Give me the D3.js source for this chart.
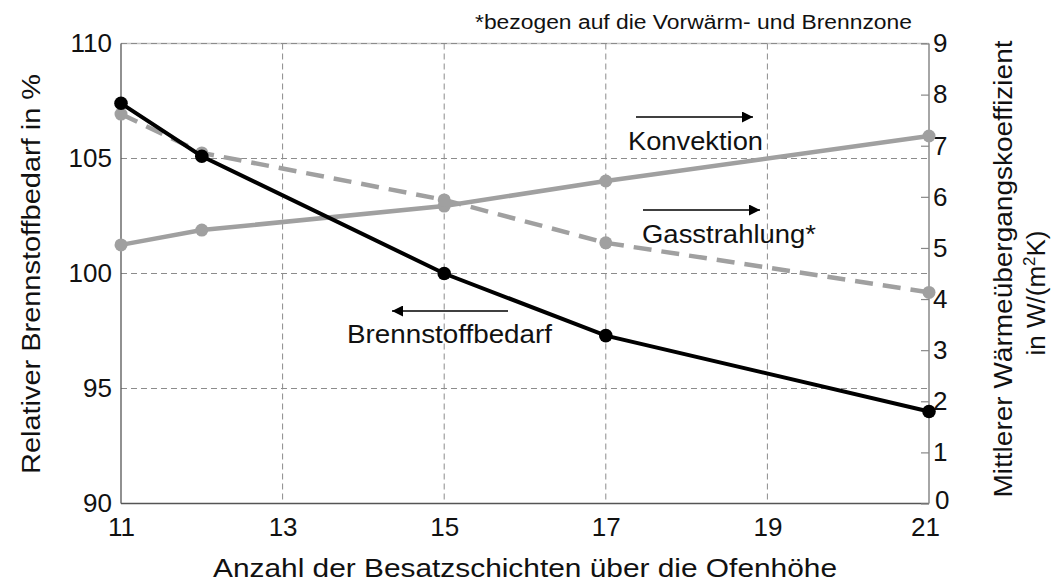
<!DOCTYPE html>
<html>
<head>
<meta charset="utf-8">
<script src="https://cdn.jsdelivr.net/npm/d3@7/dist/d3.min.js"></script>
<style>
  body { margin: 0; background: #fff; }
  svg { display: block; font-family: "Liberation Sans", Arial, sans-serif; }
</style>
</head>
<body>
<svg id="chart" width="1051" height="583"></svg>
<script>
// Number of setting layers across the kiln height
const layers = [11, 12, 15, 17, 21];
// Relative fuel demand in % (left axis)
const fuelDemand = [107.4, 105.1, 100.0, 97.3, 94.0];
// Mean heat transfer coefficients in W/(m²K) (right axis)
const convection = [5.06, 5.35, 5.82, 6.31, 7.19];
const gasRadiation = [7.62, 6.86, 5.94, 5.10, 4.13];

const xTicks = [11, 13, 15, 17, 19, 21];
const yLeftTicks = [90, 95, 100, 105, 110];
const yRightTicks = [0, 1, 2, 3, 4, 5, 6, 7, 8, 9];

const svg = d3.select("#chart");
const m = { left: 121, right: 929, top: 43.5, bottom: 503.5 };

const x = d3.scaleLinear().domain([11, 21]).range([m.left, m.right]);
const yL = d3.scaleLinear().domain([90, 110]).range([m.bottom, m.top]);
const yR = d3.scaleLinear().domain([0, 9]).range([m.bottom, m.top]);

const grey = "#a0a0a0";
const gridCol = "#8c8c8c";
const FS = 26;

// top border (solid, with the dashed grid line on top)
svg.append("line").attr("x1", m.left).attr("x2", m.right).attr("y1", m.top).attr("y2", m.top)
  .attr("stroke", "#c4c4c4").attr("stroke-width", 1.3);

// grid lines
const grid = svg.append("g");
grid.selectAll("line.h").data(yLeftTicks.filter(d => d > 90)).join("line")
  .attr("x1", m.left).attr("x2", m.right)
  .attr("y1", d => yL(d)).attr("y2", d => yL(d))
  .attr("stroke", gridCol).attr("stroke-width", 1).attr("stroke-dasharray", "6,4");
grid.selectAll("line.v").data(xTicks.filter(d => d > 11 && d < 21)).join("line")
  .attr("x1", d => x(d)).attr("x2", d => x(d))
  .attr("y1", m.top).attr("y2", m.bottom)
  .attr("stroke", gridCol).attr("stroke-width", 1).attr("stroke-dasharray", "6,4");

// axes frame
svg.append("line").attr("x1", m.left).attr("x2", m.left).attr("y1", m.top).attr("y2", m.bottom)
  .attr("stroke", "#555").attr("stroke-width", 1.3);
svg.append("line").attr("x1", m.left).attr("x2", m.right).attr("y1", m.bottom).attr("y2", m.bottom)
  .attr("stroke", "#555").attr("stroke-width", 1.3);
svg.append("line").attr("x1", m.right).attr("x2", m.right).attr("y1", m.top).attr("y2", m.bottom)
  .attr("stroke", "#888").attr("stroke-width", 1.5);

// axes
const xAxis = svg.append("g").attr("transform", `translate(0,${m.bottom})`)
  .call(d3.axisBottom(x).tickValues(xTicks).tickSize(0).tickPadding(14).tickFormat(d3.format("d")));
xAxis.select(".domain").remove();
xAxis.selectAll("text").attr("font-size", FS).attr("fill", "#111");
// last label sits slightly left so it clears the right axis' zero
xAxis.selectAll(".tick").filter(d => d === 21).select("text").attr("dx", "-4");

const yAxisL = svg.append("g").attr("transform", `translate(${m.left},0)`)
  .call(d3.axisLeft(yL).tickValues(yLeftTicks).tickSize(0).tickPadding(9));
yAxisL.select(".domain").remove();
yAxisL.selectAll("text").attr("font-size", FS).attr("fill", "#111");

const yAxisR = svg.append("g").attr("transform", `translate(${m.right},0)`)
  .call(d3.axisRight(yR).tickValues(yRightTicks).tickSizeInner(-8).tickSizeOuter(0).tickPadding(4));
yAxisR.select(".domain").remove();
yAxisR.selectAll("line").attr("stroke", "#888").attr("stroke-width", 1.2);
yAxisR.selectAll("text").attr("font-size", FS).attr("fill", "#111");
yAxisR.selectAll(".tick").filter(d => d === 0).select("text").attr("dy", "0.2em").attr("x", 6);

// series
const pts = (vals, ys) => layers.map((l, i) => [x(l), ys(vals[i])]);
const line = d3.line();

svg.append("path").attr("d", line(pts(convection, yR)))
  .attr("fill", "none").attr("stroke", grey).attr("stroke-width", 4.5);
svg.append("path").attr("d", line(pts(gasRadiation, yR)))
  .attr("fill", "none").attr("stroke", grey).attr("stroke-width", 4.5)
  .attr("stroke-dasharray", "18,10");
svg.append("g").selectAll("circle").data(pts(convection, yR).concat(pts(gasRadiation, yR))).join("circle")
  .attr("cx", d => d[0]).attr("cy", d => d[1]).attr("r", 6.5).attr("fill", grey);

svg.append("path").attr("d", line(pts(fuelDemand, yL)))
  .attr("fill", "none").attr("stroke", "#000").attr("stroke-width", 4);
svg.append("g").selectAll("circle").data(pts(fuelDemand, yL)).join("circle")
  .attr("cx", d => d[0]).attr("cy", d => d[1]).attr("r", 6.8).attr("fill", "#000");

// arrows pointing to the relevant axis
const defs = svg.append("defs");
defs.append("marker").attr("id", "arrow").attr("viewBox", "0 0 10 10")
  .attr("refX", 10).attr("refY", 5).attr("markerWidth", 17).attr("markerHeight", 11)
  .attr("markerUnits", "userSpaceOnUse").attr("orient", "auto")
  .append("path").attr("d", "M0,0 L10,5 L0,10 Z").attr("fill", "#000");

function arrow(x1, x2, yy) {
  svg.append("line").attr("x1", x1).attr("x2", x2).attr("y1", yy).attr("y2", yy)
    .attr("stroke", "#000").attr("stroke-width", 1.6).attr("marker-end", "url(#arrow)");
}
arrow(636, 753, 117);
arrow(643, 760, 210);
arrow(508, 392, 311);

const label = (t, xx, yy, size, len) => svg.append("text").attr("x", xx).attr("y", yy)
  .attr("font-size", size).attr("fill", "#111")
  .attr("textLength", len).attr("lengthAdjust", "spacingAndGlyphs").text(t);

label("Konvektion", 628, 150, FS, 135);
label("Gasstrahlung*", 642, 243, FS, 174);
label("Brennstoffbedarf", 347, 343, FS, 205);
label("*bezogen auf die Vorwärm- und Brennzone", 475, 29, 19.5, 437);

// axis titles
label("Anzahl der Besatzschichten über die Ofenhöhe", 213, 577, FS, 624);

svg.append("text").attr("transform", "translate(40,274) rotate(-90)")
  .attr("font-size", FS).attr("fill", "#111").attr("text-anchor", "middle")
  .attr("textLength", 400).attr("lengthAdjust", "spacingAndGlyphs")
  .text("Relativer Brennstoffbedarf in %");

svg.append("text").attr("transform", "translate(1012,269) rotate(-90)")
  .attr("font-size", FS).attr("fill", "#111").attr("text-anchor", "middle")
  .attr("textLength", 457).attr("lengthAdjust", "spacingAndGlyphs")
  .text("Mittlerer Wärmeübergangskoeffizient");

const t2 = svg.append("text").attr("transform", "translate(1045,293) rotate(-90)")
  .attr("font-size", FS).attr("fill", "#111").attr("text-anchor", "middle");
t2.append("tspan").text("in W/(m");
t2.append("tspan").attr("font-size", 17).attr("dy", -10).text("2");
t2.append("tspan").attr("dy", 10).text("K)");
</script>
</body>
</html>
